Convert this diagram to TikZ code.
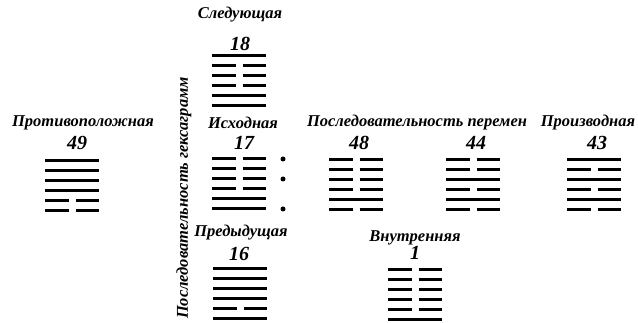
\documentclass[tikz,border=0pt]{standalone}
\usepackage{fontspec}
\setmainfont{Liberation Serif}
\usetikzlibrary{positioning}
\tikzset{
  every picture/.style={line width=3pt},
  lbl/.style={font=\fontsize{16.5}{18}\selectfont\bfseries\itshape, inner sep=0pt},
  num/.style={font=\fontsize{20}{22}\selectfont\bfseries\itshape, inner sep=0pt},
  yao/.style={line width=3pt},
  dot/.style={circle, fill, inner sep=0pt, minimum size=5pt},
}
% hexagram: left x, top y, lines from top (1 = whole, 0 = broken)
\newcommand{\hexa}[3]{%
  \foreach \b [count=\i from 0] in {#3} {
    \pgfmathsetmacro{\yy}{#2+10*\i}
    \ifnum\b=1
      \draw[yao] (#1,\yy) -- ++(54,0);
    \else
      \draw[yao] (#1,\yy) -- ++(23.5,0) ++(7,0) -- ++(23.5,0);
    \fi
  }}

\begin{document}
\begin{tikzpicture}[x=1pt, y=-1pt]
  \useasboundingbox (0,0) rectangle (638,323);
  % labels
  \node[lbl] (next) at (240,15) {Следующая};
  \node[num] (n18) at (240,44) {18};
  \node[lbl] (opp) at (83,123) {Противоположная};
  \node[num] (n49) at (77,143) {49};
  \node[lbl] (orig) at (243,123) {Исходная};
  \node[num] (n17) at (244,143) {17};
  \node[lbl] (seq) at (417,123) {Последовательность перемен};
  \node[num] (n48) at (359,143) {48};
  \node[num] (n44) at (476,143) {44};
  \node[lbl] (deriv) at (588,123) {Производная};
  \node[num] (n43) at (597,143) {43};
  \node[lbl] (prev) at (241,233) {Предыдущая};
  \node[num] (n16) at (239,254) {16};
  \node[lbl] (inner) at (415,238) {Внутренняя};
  \node[num] (n1) at (415,253) {1};
  \node[lbl, rotate=90] (hexseq) at (184,198) {Последовательность гексаграмм};
  % hexagrams
  \hexa{212}{56}{1,0,0,0,1,1}
  \hexa{45}{161}{1,1,1,1,0,0}
  \hexa{212}{159}{0,0,0,0,1,1}
  \hexa{329}{160}{0,0,0,0,1,0}
  \hexa{446}{160}{0,0,1,0,1,0}
  \hexa{567}{160}{1,0,1,0,1,0}
  \hexa{213}{269}{1,1,1,1,0,1}
  \hexa{388}{270}{0,0,0,0,0,1}
  % moving lines
  \node[dot] (m1) at (283,159) {};
  \node[dot] (m3) at (283,179) {};
  \node[dot] (m6) at (283,209) {};
\end{tikzpicture}
\end{document}
